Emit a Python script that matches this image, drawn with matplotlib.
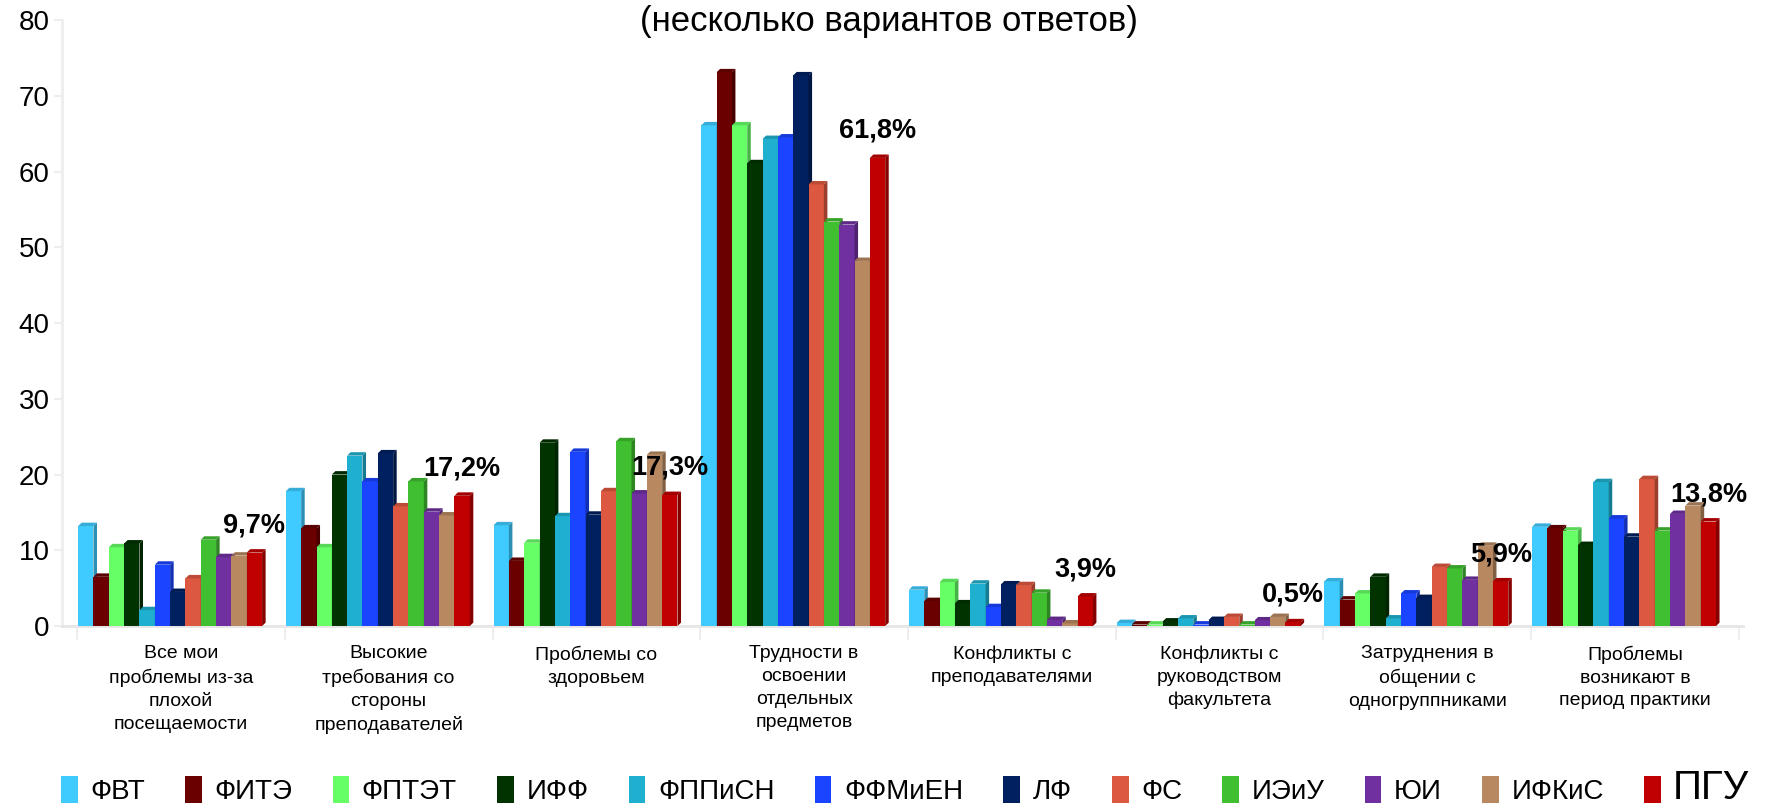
import numpy as np
import matplotlib
matplotlib.use("Agg")
import matplotlib.pyplot as plt
from matplotlib.patches import Polygon, Patch
from matplotlib.colors import to_rgb

plt.rcParams['font.family'] = ['Liberation Sans', 'DejaVu Sans']

categories = [
    "Все мои\nпроблемы из-за\nплохой\nпосещаемости",
    "Высокие\nтребования со\nстороны\nпреподавателей",
    "Проблемы со\nздоровьем",
    "Трудности в\nосвоении\nотдельных\nпредметов",
    "Конфликты с\nпреподавателями",
    "Конфликты с\nруководством\nфакультета",
    "Затруднения в\nобщении с\nодногруппниками",
    "Проблемы\nвозникают в\nпериод практики",
]

faculties = ["ФВТ", "ФИТЭ", "ФПТЭТ", "ИФФ", "ФППиСН", "ФФМиЕН",
             "ЛФ", "ФС", "ИЭиУ", "ЮИ", "ИФКиС", "ПГУ"]

colors = ["#3FCBFF", "#6B0000", "#66FF66", "#003300", "#1FB0CF", "#1A44FF",
          "#00205F", "#DC5840", "#40BF30", "#7030A0", "#B88860", "#C00000"]

# values per faculty, one entry per category
fvt    = [13.2, 17.8, 13.3, 66.1, 4.8, 0.4, 5.9, 13.1]
fite   = [6.5, 12.9, 8.6, 73.1, 3.3, 0.2, 3.5, 12.9]
fptet  = [10.4, 10.4, 11.0, 66.1, 5.8, 0.2, 4.3, 12.6]
iff    = [10.9, 20.0, 24.2, 61.1, 3.0, 0.6, 6.5, 10.7]
fppisn = [2.1, 22.5, 14.5, 64.3, 5.6, 1.0, 1.0, 19.0]
ffmien = [8.1, 19.1, 23.0, 64.5, 2.5, 0.2, 4.3, 14.2]
lf     = [4.5, 22.8, 14.7, 72.7, 5.5, 0.8, 3.7, 11.8]
fs     = [6.3, 15.8, 17.8, 58.3, 5.4, 1.2, 7.8, 19.4]
ieiu   = [11.4, 19.1, 24.4, 53.4, 4.4, 0.2, 7.6, 12.6]
yui    = [9.1, 15.1, 17.5, 53.0, 0.8, 0.75, 6.1, 14.8]
ifkis  = [9.3, 14.6, 22.6, 48.2, 0.35, 1.2, 10.6, 15.9]
pgu    = [9.7, 17.2, 17.3, 61.8, 3.9, 0.5, 5.9, 13.8]

series = [fvt, fite, fptet, iff, fppisn, ffmien, lf, fs, ieiu, yui, ifkis, pgu]
pgu_labels = ["9,7%", "17,2%", "17,3%", "61,8%", "3,9%", "0,5%", "5,9%", "13,8%"]


def shade(c, f):
    r, g, b = to_rgb(c)
    return (r * f, g * f, b * f)


fig = plt.figure(figsize=(17.75, 8.08), dpi=100)
ax = fig.add_axes([0.0349, 0.2252, 0.947, 0.75])

x = np.arange(len(categories))
w = 0.0738
start = -0.495
dx = 0.017   # depth of the fake 3d faces, data units
dy = 0.45

for j, (vals, col) in enumerate(zip(series, colors)):
    xs = x + start + w * j
    ax.bar(xs, vals, width=w, align='edge', color=col, zorder=3)
    for xi, v in zip(xs, vals):
        side = Polygon([(xi + w, 0), (xi + w + dx, dy), (xi + w + dx, v + dy), (xi + w, v)],
                       closed=True, facecolor=shade(col, 0.7), edgecolor='none', zorder=3)
        top = Polygon([(xi, v), (xi + dx, v + dy), (xi + w + dx, v + dy), (xi + w, v)],
                      closed=True, facecolor=shade(col, 0.85), edgecolor='none', zorder=3)
        ax.add_patch(side)
        ax.add_patch(top)

# ПГУ labels
pgu_x = x + start + w * 11 + w / 2
for xi, v, lab in zip(pgu_x, pgu, pgu_labels):
    ax.text(xi, v + 3.6, lab, ha='center', va='center', fontsize=19.5, fontweight='bold', zorder=5)

ax.set_xlim(-0.573, 7.52)
ax.set_ylim(0, 80)
ax.set_yticks(np.arange(0, 81, 10))
ax.set_xticks(x)
ax.set_xticklabels(categories, fontsize=14, linespacing=1.45)
ax.set_xticks(np.arange(-0.5, 8.0, 1.0), minor=True)
ax.tick_params(axis='x', which='major', length=0, pad=14)
ax.tick_params(axis='x', which='minor', length=10, color='#EEEEEE', width=1.5)
ax.tick_params(axis='y', labelsize=20, length=6, color='#EEEEEE', width=1.5, pad=3)

for s in ['top', 'right']:
    ax.spines[s].set_visible(False)
ax.spines['left'].set_color('#EEEEEE')
ax.spines['left'].set_linewidth(2)
ax.spines['bottom'].set_color('#E6E6E6')
ax.spines['bottom'].set_linewidth(2)

fig.text(0.501, 0.994, "(несколько вариантов ответов)", ha='center', va='top', fontsize=25)

handles = [Patch(facecolor=c, edgecolor='none') for c in colors]
leg = fig.legend(handles, faculties, loc='center', bbox_to_anchor=(0.51, 0.025), ncol=12,
                 frameon=False, fontsize=20, handlelength=0.6, handleheight=1.1,
                 handletextpad=0.45, columnspacing=1.45)
leg.get_texts()[-1].set_fontsize(29)

fig.savefig("out.png", dpi=100)
